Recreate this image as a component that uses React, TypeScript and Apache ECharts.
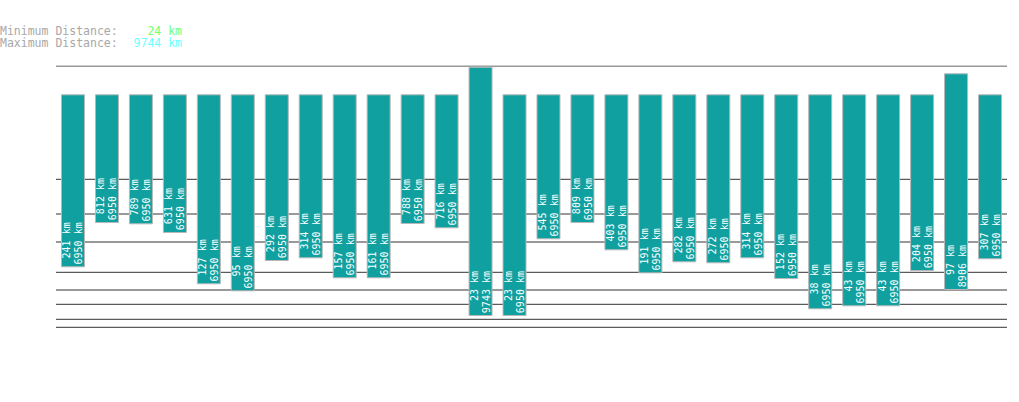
import React, { useEffect, useRef } from "react";
import * as echarts from "echarts";

// Distances shown on each bar (km)
const minKm = [241, 812, 789, 631, 127, 95, 292, 314, 157, 161, 788, 716, 23, 23, 545, 809, 403, 191, 282, 272, 314, 152, 38, 43, 43, 204, 97, 307];
const maxKm = [6950, 6950, 6950, 6950, 6950, 6950, 6950, 6950, 6950, 6950, 6950, 6950, 9743, 6950, 6950, 6950, 6950, 6950, 6950, 6950, 6950, 6950, 6950, 6950, 6950, 6950, 8906, 6950];

// Bar extents on the chart's (inverted) depth scale
const topLevel = [28.3, 28.3, 28.3, 28.3, 28.3, 28.3, 28.3, 28.3, 28.3, 28.3, 28.3, 28.3, 0.7, 28.3, 28.3, 28.3, 28.3, 28.3, 28.3, 28.3, 28.3, 28.3, 28.3, 28.3, 28.3, 28.3, 7.3, 28.3];
const bottomLevel = [201.3, 157, 158.3, 167, 218.3, 225.3, 195, 192.3, 212.3, 212.3, 158, 162.3, 250, 250, 173.3, 157, 184.3, 207.3, 196.3, 197.3, 192.3, 213, 243.3, 240.3, 240.3, 205, 224, 193.3];

// Horizontal reference lines on the same scale
const gridLevels = [0, 113.3, 148, 176, 206.3, 224, 238.3, 253.3, 261.3];

const minimumDistanceKm = 24;
const maximumDistanceKm = 9744;

export default function App() {
  const ref = useRef<HTMLDivElement>(null);

  useEffect(() => {
    document.body.style.margin = "0";
    const chart = echarts.init(ref.current!, undefined, { renderer: "svg" });
    const cats = minKm.map((_, i) => String(i + 1));
    const mono = '"DejaVu Sans Mono", monospace';
    const headFont = `11.5px ${mono}`;

    const lineSeries = gridLevels.map((v) => ({
      type: "line",
      xAxisIndex: 1,
      yAxisIndex: 0,
      data: [
        [0, v],
        [1, v],
      ],
      symbol: "none",
      silent: true,
      z: 1,
      lineStyle: { color: "#333333", width: 1 },
    }));

    chart.setOption({
      animation: false,
      backgroundColor: "#ffffff",
      grid: { left: 56, top: 66, width: 951, height: 262 },
      xAxis: [
        { type: "category", data: cats, show: false, boundaryGap: true },
        { type: "value", min: 0, max: 1, show: false },
      ],
      yAxis: { type: "value", inverse: true, min: 0, max: 262, show: false },
      graphic: [
        { type: "text", x: 0, y: 31, style: { text: "Minimum Distance:", fill: "#a8a8a8", font: headFont, textAlign: "left", textVerticalAlign: "middle" } },
        { type: "text", x: 0, y: 43, style: { text: "Maximum Distance:", fill: "#a8a8a8", font: headFont, textAlign: "left", textVerticalAlign: "middle" } },
        { type: "text", x: 182, y: 31, style: { text: `${minimumDistanceKm} km`, fill: "#70ff70", font: headFont, textAlign: "right", textVerticalAlign: "middle" } },
        { type: "text", x: 182, y: 43, style: { text: `${maximumDistanceKm} km`, fill: "#70ffff", font: headFont, textAlign: "right", textVerticalAlign: "middle" } },
      ],
      series: [
        ...lineSeries,
        {
          type: "bar",
          stack: "range",
          xAxisIndex: 0,
          data: topLevel,
          barWidth: 24,
          silent: true,
          z: 2,
          itemStyle: { color: "rgba(0,0,0,0)" },
        },
        {
          type: "bar",
          stack: "range",
          xAxisIndex: 0,
          data: bottomLevel.map((b, i) => b - topLevel[i]),
          barWidth: 24,
          z: 5,
          itemStyle: { color: "#11a0a0", borderColor: "#b8b8b8", borderWidth: 1 },
          label: {
            show: true,
            position: "insideBottom",
            distance: 2,
            rotate: 90,
            align: "left",
            verticalAlign: "middle",
            color: "#ffffff",
            fontFamily: mono,
            fontSize: 10,
            lineHeight: 12,
            formatter: (p: any) => `{a|${minKm[p.dataIndex]} km}\n{a|${maxKm[p.dataIndex]} km}`,
            rich: {
              a: { width: 43, align: "right", color: "#ffffff", fontFamily: mono, fontSize: 10, lineHeight: 12 },
            },
          },
        },
      ],
    });

    return () => chart.dispose();
  }, []);

  return <div ref={ref} style={{ position: "fixed", left: 0, top: 0, width: 1019, height: 402 }} />;
}
